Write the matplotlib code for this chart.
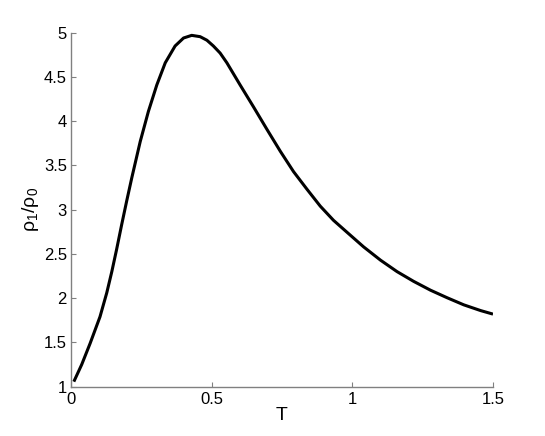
import matplotlib
matplotlib.use("Agg")
import matplotlib.pyplot as plt

plt.rcParams['font.family'] = ['Liberation Sans', 'DejaVu Sans']
plt.rcParams['mathtext.fontset'] = 'custom'
plt.rcParams['mathtext.rm'] = 'Liberation Sans'
plt.rcParams['mathtext.it'] = 'Liberation Sans'

# Values
T_values = [0.010, 0.038, 0.068, 0.103, 0.127, 0.145, 0.162, 0.180, 0.198,
            0.216, 0.246, 0.275, 0.305, 0.335, 0.370, 0.400, 0.429, 0.459,
            0.483, 0.506, 0.530, 0.554, 0.601, 0.649, 0.696, 0.744, 0.791,
            0.839, 0.886, 0.933, 0.981, 1.040, 1.100, 1.159, 1.218, 1.278,
            1.337, 1.396, 1.456, 1.500]
ratio_values = [1.057, 1.25, 1.49, 1.79, 2.06, 2.30, 2.55, 2.83, 3.10,
                3.36, 3.77, 4.11, 4.41, 4.66, 4.85, 4.94, 4.97, 4.955,
                4.915, 4.85, 4.77, 4.66, 4.41, 4.16, 3.91, 3.66, 3.43,
                3.23, 3.04, 2.88, 2.745, 2.58, 2.43, 2.30, 2.19, 2.09,
                2.005, 1.925, 1.86, 1.82]
x_ticks = [0, 0.5, 1, 1.5]
x_tick_labels = ['0', '0.5', '1', '1.5']
y_ticks = [1, 1.5, 2, 2.5, 3, 3.5, 4, 4.5, 5]
y_tick_labels = ['1', '1.5', '2', '2.5', '3', '3.5', '4', '4.5', '5']

fig = plt.figure(figsize=(5.45, 4.36), dpi=100)
ax = fig.add_axes([0.1303, 0.1131, 0.7743, 0.8119])
ax.plot(T_values, ratio_values, color='black', linewidth=2.2,
        solid_capstyle='butt', solid_joinstyle='round')
ax.set_xlim(0, 1.5)
ax.set_ylim(1, 5)
ax.set_xticks(x_ticks)
ax.set_xticklabels(x_tick_labels)
ax.set_yticks(y_ticks)
ax.set_yticklabels(y_tick_labels)
for s in ['top', 'right']:
    ax.spines[s].set_visible(False)
for s in ['left', 'bottom']:
    ax.spines[s].set_color('#808080')
    ax.spines[s].set_linewidth(1.0)
ax.tick_params(direction='in', length=3.5, width=0.8, colors='#808080',
               labelcolor='black', labelsize=12)
ax.tick_params(axis='x', pad=4)
ax.tick_params(axis='y', pad=3)
ax.set_xlabel('T', fontsize=14, labelpad=0)
ax.set_ylabel(r'ρ$_1$/ρ$_0$', fontsize=14, labelpad=2)
fig.savefig('out.png', dpi=100)
